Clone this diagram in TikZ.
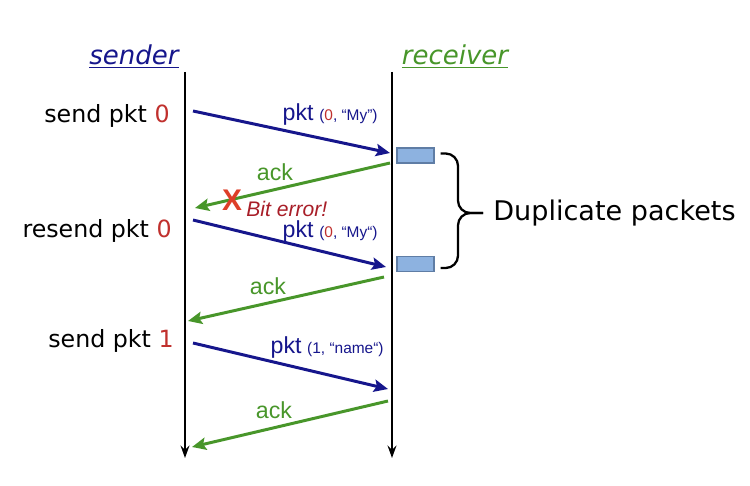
\documentclass[tikz,border=0pt]{standalone}
\usepackage{fontspec}
\setmainfont{DejaVu Sans}
\newfontfamily\arialfont{Liberation Sans}
\usetikzlibrary{arrows.meta, positioning, calc}
\definecolor{pktblue}{RGB}{22, 22, 140}
\definecolor{ackgreen}{RGB}{72, 150, 42}
\definecolor{seqred}{RGB}{192, 48, 45}
\definecolor{errred}{RGB}{168, 30, 40}
\definecolor{crossred}{RGB}{222, 62, 40}
\definecolor{bufblue}{RGB}{141, 178, 224}
\definecolor{bufedge}{RGB}{95, 125, 165}

\tikzset{
  lifeline/.style={line width=1.4pt, -{Stealth[length=7pt, width=5pt]}},
  pktmsg/.style={pktblue, line width=1.7pt, -{Stealth[length=8pt, width=7pt, inset=1.5pt]}},
  ackmsg/.style={ackgreen, line width=1.7pt, -{Stealth[length=8pt, width=7pt, inset=1.5pt]}},
  event/.style={anchor=east, inner sep=0pt, font=\fontsize{13.5}{16}\selectfont},
  actor/.style={inner sep=0pt, font=\itshape\fontsize{14.8}{18}\selectfont},
  pktlabel/.style={anchor=east, inner sep=0pt, pktblue},
  acklabel/.style={inner sep=0pt, ackgreen, font=\arialfont\fontsize{13.2}{16}\selectfont},
  buffer/.style={draw=bufedge, fill=bufblue, line width=0.6pt, minimum width=0.74cm, minimum height=0.3cm, inner sep=0pt}
}
\newcommand{\pkttext}[2]{{\arialfont\fontsize{13.2}{15}\selectfont pkt} {\arialfont\fontsize{8.8}{10}\selectfont(#1, #2)}}

\begin{document}
\begin{tikzpicture}[x=0.02cm, y=-0.02cm]
  \useasboundingbox (0,0) rectangle (750,486);

  % Lifelines
  \coordinate (sndtop) at (185,72);
  \coordinate (sndbot) at (185,458);
  \coordinate (rcvtop) at (392,72);
  \coordinate (rcvbot) at (392,458);
  \draw[lifeline] (sndtop) -- (sndbot);
  \draw[lifeline] (rcvtop) -- (rcvbot);

  \node[actor, text=pktblue] (sender) at (134,57) {\underline{sender}};
  \node[actor, text=ackgreen] (receiver) at (455,57) {\underline{receiver}};

  % Sender events
  \node[event] (ev1) at (170,116) {send pkt \textcolor{seqred}{0}};
  \node[event] (ev2) at (172,231) {resend pkt \textcolor{seqred}{0}};
  \node[event] (ev3) at (174,341) {send pkt \textcolor{seqred}{1}};

  % Message end points
  \coordinate (p1s) at (193,111);  \coordinate (p1e) at (390,153);
  \coordinate (a1s) at (390,163);  \coordinate (a1e) at (195,208);
  \coordinate (p2s) at (193,220);  \coordinate (p2e) at (386,267);
  \coordinate (a2s) at (384,277);  \coordinate (a2e) at (188,321);
  \coordinate (p3s) at (193,343);  \coordinate (p3e) at (388,389);
  \coordinate (a3s) at (388,401);  \coordinate (a3e) at (192,447);

  \draw[pktmsg] (p1s) -- (p1e);
  \draw[ackmsg] (a1s) -- (a1e);
  \draw[pktmsg] (p2s) -- (p2e);
  \draw[ackmsg] (a2s) -- (a2e);
  \draw[pktmsg] (p3s) -- (p3e);
  \draw[ackmsg] (a3s) -- (a3e);

  \node[pktlabel] (lp1) at (378,115) {\pkttext{\textcolor{seqred}{0}}{“My”}};
  \node[pktlabel] (lp2) at (378,232) {\pkttext{\textcolor{seqred}{0}}{“My“}};
  \node[pktlabel] (lp3) at (384,348) {\pkttext{1}{“name“}};
  \node[acklabel] (la1) at (275,172) {ack};
  \node[acklabel] (la2) at (268,286) {ack};
  \node[acklabel] (la3) at (274,410) {ack};

  % Lost ack
  \node[inner sep=0pt, text=crossred, font=\arialfont\bfseries\fontsize{17}{18}\selectfont] (cross) at (232,200) {X};
  \node[anchor=west, inner sep=0pt, text=errred, font=\arialfont\itshape\fontsize{12}{14}\selectfont] (err) at (246,209) {Bit error!};

  % Receiver buffer
  \node[buffer] (buf1) at (415.5,155.5) {};
  \node[buffer] (buf2) at (415.5,264) {};
  \coordinate (brtop) at ($(buf1.east)+(6,-2)$);
  \coordinate (brbot) at ($(buf2.east)+(6,4)$);
  \coordinate (brtip) at (483,213);
  \draw[line width=1.3pt, rounded corners=7] (brtop) -| ($(brtip)+(-25,0)$) -- (brtip);
  \draw[line width=1.3pt, rounded corners=7] (brbot) -| ($(brtip)+(-25,0)$) -- (brtip);
  \node[anchor=west, inner sep=0pt, font=\fontsize{15.4}{18}\selectfont] (dup) at (493,213) {Duplicate packets};
\end{tikzpicture}
\end{document}
